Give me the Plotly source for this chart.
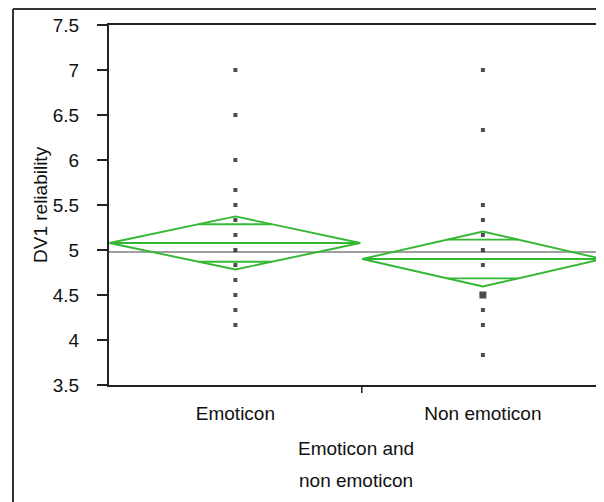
import math
import plotly.graph_objects as go

# ---- data ----
groups = ["Emoticon", "Non emoticon"]
group_sizes = [48, 46]
emoticon_values = [7.0, 6.5, 6.0, 5.667, 5.5, 5.333, 5.167, 5.0, 4.833, 4.667, 4.5, 4.333, 4.167]
emoticon_counts = [1, 1, 1, 1, 1, 1, 1, 1, 1, 1, 1, 1, 1]
non_values = [7.0, 6.333, 5.5, 5.333, 5.167, 5.0, 4.833, 4.5, 4.333, 4.167, 3.833]
non_counts = [1, 1, 1, 1, 1, 1, 1, 3, 1, 1, 1]
group_means = [5.078, 4.90]
ci_half = [0.295, 0.305]
grand_mean = 4.978
y_ticks = [3.5, 4, 4.5, 5, 5.5, 6, 6.5, 7, 7.5]
y_title = "DV1 reliability"
x_title_lines = ["Emoticon and", "non emoticon"]

GREEN = "#34b834"
FONT = "Liberation Sans, Arial, sans-serif"

# page body has an 8px margin: figure origin sits at screen (8, 8)
W, H = 596, 494
L, T, R, B = 101, 17, 0, 117
PW, PH = W - L - R, H - T - B  # 495 x 360


def px(x):  # screen x -> paper
    return (x - 8 - L) / PW


def py(y):  # screen y -> paper
    return (H - B - (y - 8)) / PH


total = sum(group_sizes)
starts = [0, group_sizes[0]]
ends = [group_sizes[0], total]
centers = [(s + e) / 2 for s, e in zip(starts, ends)]

fig = go.Figure()

# grand mean line
fig.add_trace(go.Scatter(x=[0, total], y=[grand_mean, grand_mean], mode="lines",
                         line=dict(color="#a0a0a0", width=2), hoverinfo="skip"))

# diamonds
for i in range(2):
    x0, x1, xc = starts[i] + 0.1, ends[i] - 0.3, centers[i]
    m, h = group_means[i], ci_half[i]
    fig.add_trace(go.Scatter(x=[x0, xc, x1, xc, x0], y=[m, m + h, m, m - h, m], mode="lines",
                             line=dict(color=GREEN, width=1.9), hoverinfo="skip"))
    fig.add_trace(go.Scatter(x=[x0, x1], y=[m, m], mode="lines",
                             line=dict(color=GREEN, width=1.9), hoverinfo="skip"))
    w = (x1 - x0) / 2
    d = h / math.sqrt(2)
    hw = w * (1 - 1 / math.sqrt(2))
    for s in (1, -1):
        fig.add_trace(go.Scatter(x=[xc - hw, xc + hw], y=[m + s * d, m + s * d], mode="lines",
                                 line=dict(color=GREEN, width=1.9), hoverinfo="skip"))

# points
for i, (vals, cnts) in enumerate([(emoticon_values, emoticon_counts), (non_values, non_counts)]):
    fig.add_trace(go.Scatter(x=[centers[i]] * len(vals), y=vals, mode="markers",
                             marker=dict(symbol="square", color="black",
                                         size=[4 + 1.5 * (c - 1) for c in cnts], line=dict(width=0))))

fig.update_layout(
    width=W, height=H,
    margin=dict(l=L, r=R, t=T, b=B),
    paper_bgcolor="white", plot_bgcolor="white",
    showlegend=False,
    font=dict(family=FONT, size=19, color="#111"),
    xaxis=dict(range=[0, total], showgrid=False, zeroline=False,
               showline=True, linecolor="#222", linewidth=2, mirror=True,
               tickmode="array", tickvals=centers, ticktext=groups, ticks="",
               ticklabelstandoff=10),
    yaxis=dict(range=[3.5, 7.5], showgrid=False, zeroline=False,
               showline=True, linecolor="#222", linewidth=2, mirror=False,
               tickmode="array", tickvals=y_ticks, ticktext=[f"{t:g}" for t in y_ticks],
               ticks="outside", ticklen=10, tickwidth=1.5, tickcolor="#222",
               ticklabelstandoff=14),
)

# boundary tick on x axis
fig.add_shape(type="line", xref="x", yref="paper", x0=ends[0], x1=ends[0], y0=0, y1=-8 / PH,
              line=dict(color="#222", width=1.5))

# outer frame (left and top edges)
fx, fy = px(13), py(9)
fig.add_shape(type="line", xref="paper", yref="paper", x0=fx, x1=fx, y0=fy, y1=-0.4,
              line=dict(color="#333", width=2))
fig.add_shape(type="line", xref="paper", yref="paper", x0=fx, x1=1.1, y0=fy, y1=fy,
              line=dict(color="#333", width=2))

# axis titles
fig.add_annotation(text=y_title, textangle=-90, xref="paper", yref="paper",
                   x=px(40), y=0.5, showarrow=False, xanchor="center", yanchor="middle")
for k, line in enumerate(x_title_lines):
    fig.add_annotation(text=line, xref="paper", yref="paper", x=px(356),
                       y=py(448 + 32 * k), showarrow=False,
                       xanchor="center", yanchor="middle")

fig.write_html("out.html")
